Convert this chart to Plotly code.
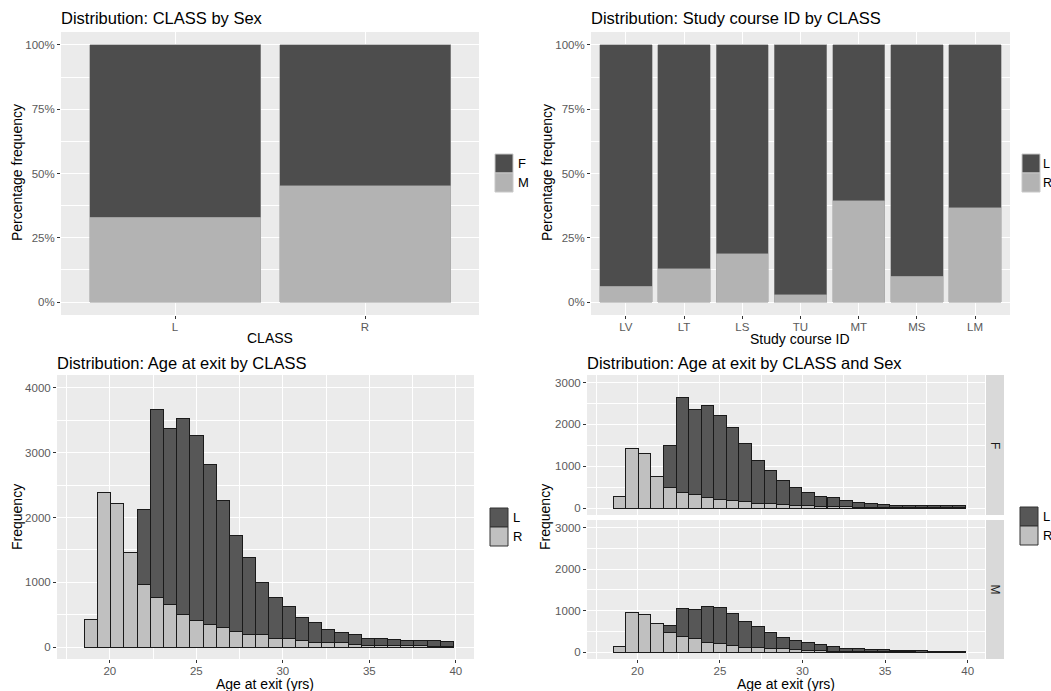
import plotly.graph_objects as go

W, H = 1051, 691

# ---------------- data ----------------
sex_classes = ["L", "R"]
pct_F_by_class = [67.1, 54.7]
pct_M_by_class = [32.9, 45.3]

courses = ["LV", "LT", "LS", "TU", "MT", "MS", "LM"]
pct_L_by_course = [93.8, 87.1, 81.1, 97.2, 60.5, 89.9, 63.3]
pct_R_by_course = [6.2, 12.9, 18.9, 2.8, 39.5, 10.1, 36.7]

pct_ticks = [0, 25, 50, 75, 100]
pct_labels = ["0%", "25%", "50%", "75%", "100%"]

age_bins = [18.92, 19.68, 20.44, 21.20, 21.97, 22.73, 23.49, 24.25, 25.01, 25.77,
            26.53, 27.30, 28.06, 28.82, 29.58, 30.34, 31.10, 31.87, 32.63, 33.39,
            34.15, 34.91, 35.67, 36.44, 37.20, 37.96, 38.72, 39.48]
bin_width = 0.761

age_L = [None, None, None, None, 1155, 2907, 2722, 3021, 2851, 2475, 1969, 1495, 1175, 809,
         624, 490, 356, 294, 211, 160, 150, 108, 98, 87, 82, 73, 78, 73]
age_R = [418, 2387, 2222, 1459, 969, 758, 649, 500, 412, 345, 294, 232, 201, 186,
         134, 134, 98, 77, 67, 67, 46, 31, 31, 26, 21, 20, 15, 15]

age_L_F = [None, None, None, None, 1011, 2283, 2045, 2187, 1997, 1734, 1384, 1027, 788, 572,
           413, 326, 230, 207, 143, 119, 95, 64, 56, 52, 44, 46, 46, 46]
age_R_F = [270, 1432, 1313, 764, 485, 366, 318, 255, 207, 183, 151, 103, 103, 80,
           72, 56, 48, 40, 32, 24, 24, 16, 16, 12, 12, 10, 10, 10]
age_L_M = [None, None, None, None, 150, 669, 693, 874, 882, 764, 622, 496, 394, 267,
           213, 197, 142, 103, 78, 67, 55, 47, 43, 37, 31, 23, 25, 25]
age_R_M = [150, 969, 913, 701, 488, 378, 331, 236, 205, 165, 126, 118, 94, 87,
           63, 47, 39, 31, 24, 20, 16, 16, 12, 10, 8, 8, 6, 6]

# ---------------- style ----------------
FONT = "Liberation Sans, Arial, sans-serif"
DARK = "#4D4D4D"
LIGHT = "#B3B3B3"
HDARK = "#575757"
HLIGHT = "#C0C0C0"
PANEL = "#EBEBEB"
TICKC = "#5A5A5A"


def xd(a, b):
    return [a / W, b / W]


def yd(top, bottom):
    return [1 - bottom / H, 1 - top / H]


def px(x):
    return x / W


def py(y):
    return 1 - y / H


fig = go.Figure()

# top-left
fig.add_trace(go.Bar(x=sex_classes, y=pct_M_by_class, name="M", xaxis="x", yaxis="y",
                     marker=dict(color=LIGHT, line=dict(color="#A6A6A6", width=0.6))))
fig.add_trace(go.Bar(x=sex_classes, y=pct_F_by_class, name="F", xaxis="x", yaxis="y",
                     marker=dict(color=DARK, line=dict(color="#9A9A9A", width=0.6))))
# top-right
fig.add_trace(go.Bar(x=courses, y=pct_R_by_course, name="R", xaxis="x2", yaxis="y2",
                     marker=dict(color=LIGHT, line=dict(color="#A6A6A6", width=0.6))))
fig.add_trace(go.Bar(x=courses, y=pct_L_by_course, name="L", xaxis="x2", yaxis="y2",
                     marker=dict(color=DARK, line=dict(color="#9A9A9A", width=0.6))))

hline = dict(color="#1A1A1A", width=1)
for (xa, ya, lv, rv) in [("x3", "y3", age_L, age_R),
                         ("x4", "y4", age_L_F, age_R_F),
                         ("x5", "y5", age_L_M, age_R_M)]:
    fig.add_trace(go.Bar(x=age_bins, y=rv, width=bin_width, name="R", xaxis=xa, yaxis=ya,
                         marker=dict(color=HLIGHT, line=hline)))
    fig.add_trace(go.Bar(x=age_bins, y=lv, width=bin_width, name="L", xaxis=xa, yaxis=ya,
                         marker=dict(color=HDARK, line=hline)))

tickfont = dict(family=FONT, size=11.5, color=TICKC)
common = dict(showline=False, zeroline=False, ticks="outside", ticklen=3, tickwidth=1,
              tickcolor="#333333", gridcolor="white", gridwidth=1.3, tickfont=tickfont,
              fixedrange=True)
xcommon = dict(common, ticklabelstandoff=-2)

pct_y = dict(common, range=[-5, 105], tickmode="array", tickvals=pct_ticks, ticktext=pct_labels,
             minor=dict(tickvals=[12.5, 37.5, 62.5, 87.5], showgrid=True,
                        gridcolor="white", gridwidth=0.6, ticks=""))
age_x = dict(xcommon, range=[16.95, 41.05], tickvals=[20, 25, 30, 35, 40],
             minor=dict(tickvals=[17.5, 22.5, 27.5, 32.5, 37.5], showgrid=True,
                        gridcolor="white", gridwidth=0.6, ticks=""))

fig.update_layout(
    width=W, height=H, margin=dict(l=0, r=0, t=0, b=0),
    paper_bgcolor="white", plot_bgcolor=PANEL,
    barmode="stack", bargap=0.1, showlegend=False,
    font=dict(family=FONT, color="#000000"),
    xaxis=dict(xcommon, domain=xd(61, 479), anchor="y", type="category", range=[-0.6, 1.6]),
    yaxis=dict(pct_y, domain=yd(32, 315), anchor="x"),
    xaxis2=dict(xcommon, domain=xd(591, 1010), anchor="y2", type="category", range=[-0.6, 6.6]),
    yaxis2=dict(pct_y, domain=yd(32, 315), anchor="x2"),
    xaxis3=dict(age_x, domain=xd(57, 474), anchor="y3"),
    yaxis3=dict(common, domain=yd(375, 659), anchor="x3", range=[-185, 4200],
                tickvals=[0, 1000, 2000, 3000, 4000],
                minor=dict(tickvals=[500, 1500, 2500, 3500], showgrid=True,
                           gridcolor="white", gridwidth=0.6, ticks="")),
    xaxis4=dict(age_x, domain=xd(587, 985), anchor="y4", showticklabels=False, ticks=""),
    yaxis4=dict(common, domain=yd(375, 515), anchor="x4", range=[-160, 3180],
                tickvals=[0, 1000, 2000, 3000],
                minor=dict(tickvals=[500, 1500, 2500], showgrid=True,
                           gridcolor="white", gridwidth=0.6, ticks="")),
    xaxis5=dict(age_x, domain=xd(587, 985), anchor="y5"),
    yaxis5=dict(common, domain=yd(520, 659), anchor="x5", range=[-160, 3180],
                tickvals=[0, 1000, 2000, 3000],
                minor=dict(tickvals=[500, 1500, 2500], showgrid=True,
                           gridcolor="white", gridwidth=0.6, ticks="")),
)

ann = []
shapes = []


def text(x, y, s, size=14, xanchor="center", angle=0, color="#000000"):
    ann.append(dict(x=px(x), y=py(y), xref="paper", yref="paper", text=s, showarrow=False,
                    xanchor=xanchor, yanchor="middle", textangle=angle,
                    font=dict(family=FONT, size=size, color=color)))


# titles
text(59, 18, "Distribution: CLASS by Sex", 16.5, "left")
text(589, 18, "Distribution: Study course ID by CLASS", 16.5, "left")
text(55, 363, "Distribution: Age at exit by CLASS", 16.5, "left")
text(585, 363, "Distribution: Age at exit by CLASS and Sex", 16.5, "left")

# axis titles
text(270, 338, "CLASS", 14)
text(800, 339, "Study course ID", 14)
text(265, 684, "Age at exit (yrs)", 14)
text(786, 684, "Age at exit (yrs)", 14)
text(17, 173, "Percentage frequency", 14, angle=-90)
text(547, 173, "Percentage frequency", 14, angle=-90)
text(17, 517, "Frequency", 14, angle=-90)
text(545, 517, "Frequency", 14, angle=-90)

# facet strips
for (t0, t1, lab) in [(375, 515, "F"), (520, 659, "M")]:
    shapes.append(dict(type="rect", xref="paper", yref="paper", x0=px(986), x1=px(1004),
                       y0=py(t1), y1=py(t0), fillcolor="#D9D9D9", line=dict(width=0),
                       layer="below"))
    text(995, (t0 + t1) / 2, lab, 12, angle=90, color="#1A1A1A")


# legends
def legend(x0, y0, labels, colors, border, gap=21, size=13):
    for i, (lab, col) in enumerate(zip(labels, colors)):
        shapes.append(dict(type="rect", xref="paper", yref="paper",
                           x0=px(x0), x1=px(x0 + 18), y0=py(y0 + 19 * (i + 1)),
                           y1=py(y0 + 19 * i), fillcolor=col,
                           line=dict(color=border, width=1)))
        text(x0 + gap, y0 + 19 * i + 9.5, lab, size, "left")


legend(495, 154, ["F", "M"], [DARK, LIGHT], "#C8C8C8")
legend(1022, 154, ["L", "R"], [DARK, LIGHT], "#C8C8C8", gap=19, size=12.5)
legend(490, 508, ["L", "R"], [HDARK, HLIGHT], "#333333")
legend(1020, 507, ["L", "R"], [HDARK, HLIGHT], "#333333")

fig.update_layout(annotations=ann, shapes=shapes)

fig.write_html("out.html", config={"displayModeBar": False},
               post_script="document.body.style.margin='0';document.body.style.overflow='hidden';")
